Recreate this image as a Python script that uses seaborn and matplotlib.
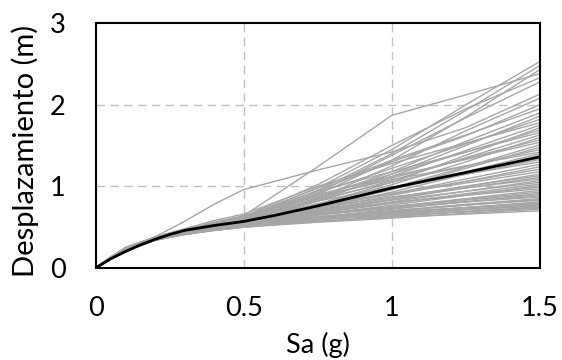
import numpy as np
import pandas as pd
import matplotlib
matplotlib.use("Agg")
import matplotlib.pyplot as plt
import seaborn as sns

# Sa grid (g) for the individual records
sa = [0.0, 0.05, 0.1, 0.2, 0.3, 0.4, 0.5, 0.75, 1.0, 1.25, 1.5]

# mean curve (black)
sa_mean = [0.0, 0.05, 0.1, 0.15, 0.2, 0.25, 0.3, 0.35, 0.4, 0.5, 0.6, 0.75, 1.0, 1.25, 1.5]
mean_disp = [0.0, 0.11, 0.20, 0.28, 0.35, 0.41, 0.46, 0.49, 0.52, 0.57, 0.64, 0.76, 0.98, 1.17, 1.36]

# individual records (values at Sa = 0.05 ... 1.5; 0 at Sa = 0)
high_curves = [
    [0.12, 0.22, 0.36, 0.45, 0.53, 0.62, 0.98, 1.45, 2.00, 2.53],
    [0.12, 0.22, 0.36, 0.44, 0.52, 0.60, 0.95, 1.40, 1.93, 2.48],
    [0.11, 0.21, 0.35, 0.44, 0.51, 0.58, 0.90, 1.32, 1.85, 2.43],
    [0.12, 0.22, 0.37, 0.46, 0.55, 0.64, 1.24, 1.87, 2.12, 2.38],
    [0.12, 0.23, 0.37, 0.46, 0.55, 0.63, 1.02, 1.50, 1.95, 2.33],
    [0.11, 0.22, 0.36, 0.44, 0.52, 0.59, 0.92, 1.38, 1.84, 2.28],
    [0.13, 0.24, 0.38, 0.57, 0.78, 0.96, 1.20, 1.42, 1.72, 2.13],
    [0.11, 0.21, 0.35, 0.43, 0.50, 0.57, 0.85, 1.25, 1.68, 2.08],
]

mid_curves = [
    [0.12, 0.22, 0.36, 0.45, 0.53, 0.60, 0.95, 1.30, 1.62, 2.00],
    [0.13, 0.24, 0.37, 0.46, 0.55, 0.62, 0.98, 1.32, 1.63, 1.95],
    [0.12, 0.22, 0.35, 0.44, 0.51, 0.57, 0.86, 1.18, 1.55, 1.90],
    [0.11, 0.21, 0.35, 0.43, 0.50, 0.56, 0.82, 1.15, 1.50, 1.86],
    [0.12, 0.22, 0.36, 0.45, 0.54, 0.61, 0.92, 1.22, 1.52, 1.82],
    [0.13, 0.25, 0.38, 0.48, 0.58, 0.66, 1.00, 1.28, 1.53, 1.78],
    [0.12, 0.22, 0.36, 0.44, 0.52, 0.58, 0.85, 1.12, 1.44, 1.75],
    [0.11, 0.21, 0.34, 0.42, 0.49, 0.54, 0.78, 1.05, 1.38, 1.72],
    [0.12, 0.22, 0.36, 0.45, 0.53, 0.60, 0.88, 1.15, 1.42, 1.69],
    [0.13, 0.24, 0.37, 0.46, 0.55, 0.63, 0.94, 1.18, 1.42, 1.66],
    [0.12, 0.22, 0.35, 0.44, 0.51, 0.57, 0.82, 1.07, 1.35, 1.63],
    [0.11, 0.21, 0.35, 0.43, 0.50, 0.55, 0.78, 1.02, 1.30, 1.60],
    [0.12, 0.22, 0.36, 0.45, 0.53, 0.59, 0.86, 1.10, 1.34, 1.57],
    [0.13, 0.24, 0.37, 0.46, 0.55, 0.62, 0.90, 1.12, 1.33, 1.54],
    [0.12, 0.22, 0.35, 0.43, 0.50, 0.56, 0.76, 0.98, 1.24, 1.51],
    [0.11, 0.21, 0.34, 0.42, 0.49, 0.54, 0.74, 0.96, 1.22, 1.48],
    [0.12, 0.22, 0.36, 0.45, 0.53, 0.60, 0.84, 1.05, 1.25, 1.45],
    [0.13, 0.25, 0.38, 0.47, 0.56, 0.64, 0.88, 1.08, 1.25, 1.42],
    [0.12, 0.22, 0.35, 0.44, 0.51, 0.57, 0.77, 0.97, 1.18, 1.40],
    [0.11, 0.21, 0.35, 0.43, 0.50, 0.55, 0.73, 0.93, 1.15, 1.38],
    [0.12, 0.22, 0.36, 0.45, 0.52, 0.58, 0.79, 0.97, 1.15, 1.33],
    [0.13, 0.24, 0.37, 0.46, 0.54, 0.61, 0.82, 0.99, 1.15, 1.30],
]

low_curves = [
    [0.12, 0.22, 0.35, 0.44, 0.51, 0.56, 0.74, 0.91, 1.09, 1.27],
    [0.11, 0.21, 0.35, 0.43, 0.50, 0.55, 0.72, 0.89, 1.06, 1.24],
    [0.12, 0.22, 0.36, 0.45, 0.52, 0.58, 0.76, 0.91, 1.06, 1.21],
    [0.13, 0.24, 0.37, 0.46, 0.54, 0.60, 0.77, 0.91, 1.04, 1.18],
    [0.11, 0.21, 0.34, 0.42, 0.48, 0.53, 0.68, 0.84, 1.00, 1.15],
    [0.12, 0.22, 0.35, 0.44, 0.51, 0.56, 0.71, 0.86, 1.00, 1.13],
    [0.12, 0.22, 0.35, 0.43, 0.50, 0.55, 0.70, 0.84, 0.98, 1.11],
    [0.13, 0.24, 0.37, 0.46, 0.53, 0.59, 0.74, 0.87, 0.98, 1.09],
    [0.11, 0.21, 0.35, 0.43, 0.49, 0.54, 0.68, 0.81, 0.94, 1.07],
    [0.12, 0.22, 0.36, 0.45, 0.52, 0.57, 0.71, 0.83, 0.94, 1.05],
    [0.12, 0.22, 0.35, 0.43, 0.49, 0.54, 0.67, 0.79, 0.91, 1.03],
    [0.11, 0.21, 0.34, 0.42, 0.48, 0.52, 0.65, 0.77, 0.89, 1.01],
    [0.12, 0.22, 0.35, 0.44, 0.51, 0.56, 0.69, 0.80, 0.90, 0.99],
    [0.13, 0.24, 0.37, 0.46, 0.53, 0.58, 0.70, 0.80, 0.89, 0.97],
    [0.11, 0.21, 0.35, 0.43, 0.49, 0.53, 0.65, 0.75, 0.85, 0.95],
    [0.12, 0.22, 0.35, 0.43, 0.49, 0.54, 0.66, 0.75, 0.84, 0.93],
    [0.12, 0.22, 0.36, 0.44, 0.50, 0.55, 0.66, 0.75, 0.83, 0.91],
    [0.11, 0.21, 0.34, 0.41, 0.47, 0.51, 0.62, 0.72, 0.81, 0.90],
    [0.12, 0.22, 0.35, 0.44, 0.50, 0.55, 0.65, 0.73, 0.81, 0.88],
    [0.13, 0.24, 0.37, 0.46, 0.52, 0.57, 0.66, 0.74, 0.81, 0.87],
    [0.11, 0.21, 0.35, 0.42, 0.48, 0.52, 0.61, 0.70, 0.78, 0.85],
    [0.12, 0.22, 0.35, 0.43, 0.49, 0.53, 0.62, 0.70, 0.77, 0.84],
    [0.12, 0.22, 0.36, 0.44, 0.50, 0.54, 0.63, 0.70, 0.77, 0.83],
    [0.11, 0.21, 0.34, 0.41, 0.46, 0.50, 0.59, 0.67, 0.74, 0.81],
    [0.12, 0.22, 0.35, 0.43, 0.49, 0.53, 0.61, 0.68, 0.74, 0.80],
    [0.13, 0.24, 0.37, 0.45, 0.51, 0.56, 0.63, 0.69, 0.74, 0.79],
    [0.11, 0.21, 0.35, 0.42, 0.47, 0.51, 0.59, 0.66, 0.72, 0.78],
    [0.12, 0.22, 0.35, 0.43, 0.48, 0.52, 0.60, 0.66, 0.72, 0.77],
    [0.12, 0.22, 0.35, 0.43, 0.49, 0.53, 0.60, 0.66, 0.71, 0.76],
    [0.11, 0.21, 0.34, 0.41, 0.46, 0.50, 0.57, 0.63, 0.69, 0.75],
    [0.12, 0.22, 0.35, 0.43, 0.48, 0.52, 0.59, 0.64, 0.69, 0.74],
    [0.13, 0.24, 0.36, 0.44, 0.50, 0.54, 0.60, 0.65, 0.69, 0.73],
    [0.11, 0.21, 0.34, 0.41, 0.46, 0.50, 0.56, 0.61, 0.67, 0.72],
    [0.12, 0.22, 0.35, 0.42, 0.47, 0.51, 0.57, 0.62, 0.66, 0.70],
]

x_ticks = [0, 0.5, 1, 1.5]
x_tick_labels = ["0", "0.5", "1", "1.5"]
y_ticks = [0, 1, 2, 3]
y_tick_labels = ["0", "1", "2", "3"]

sns.set_theme(style="white")
plt.rcParams["font.family"] = ["Lato", "DejaVu Sans"]

rows = []
cid = 0
for group in (high_curves, mid_curves, low_curves):
    for curve in group:
        vals = [0.0] + list(curve)
        for s, v in zip(sa, vals):
            rows.append({"id": cid, "Sa": s, "D": v})
        cid += 1
df = pd.DataFrame(rows)
df_mean = pd.DataFrame({"Sa": sa_mean, "D": mean_disp})

fig = plt.figure(figsize=(5.62, 3.60), dpi=100)
ax = fig.add_axes([0.170, 0.2556, 0.791, 0.6806])

grid_kw = dict(color="#bfbfbf", lw=1.0, linestyle=(0, (6, 4)), zorder=0)
for gx in [0.5, 1.0]:
    ax.axvline(gx, **grid_kw)
for gy in [1, 2]:
    ax.axhline(gy, **grid_kw)

sns.lineplot(data=df, x="Sa", y="D", units="id", estimator=None,
             color="#a6a6a6", lw=1.0, ax=ax, zorder=2)
sns.lineplot(data=df_mean, x="Sa", y="D", color="black", lw=2.0, ax=ax, zorder=3)

ax.set_xlim(0, 1.5)
ax.set_ylim(0, 3)
ax.set_xticks(x_ticks)
ax.set_xticklabels(x_tick_labels)
ax.set_yticks(y_ticks)
ax.set_yticklabels(y_tick_labels)

for sp in ax.spines.values():
    sp.set_visible(True)
    sp.set_color("black")
    sp.set_linewidth(1.5)

ax.tick_params(axis="both", direction="inout", length=7, width=1.3,
               colors="black", labelsize=19.5)
ax.tick_params(axis="x", pad=17)
ax.tick_params(axis="y", pad=18)

ax.set_xlabel("Sa (g)", fontsize=19.5, color="black")
ax.set_ylabel("Desplazamiento (m)", fontsize=21, color="black")
ax.xaxis.set_label_coords(0.5, -0.26)
ax.yaxis.set_label_coords(-0.128, 0.478)

fig.savefig("out.png", dpi=100)
